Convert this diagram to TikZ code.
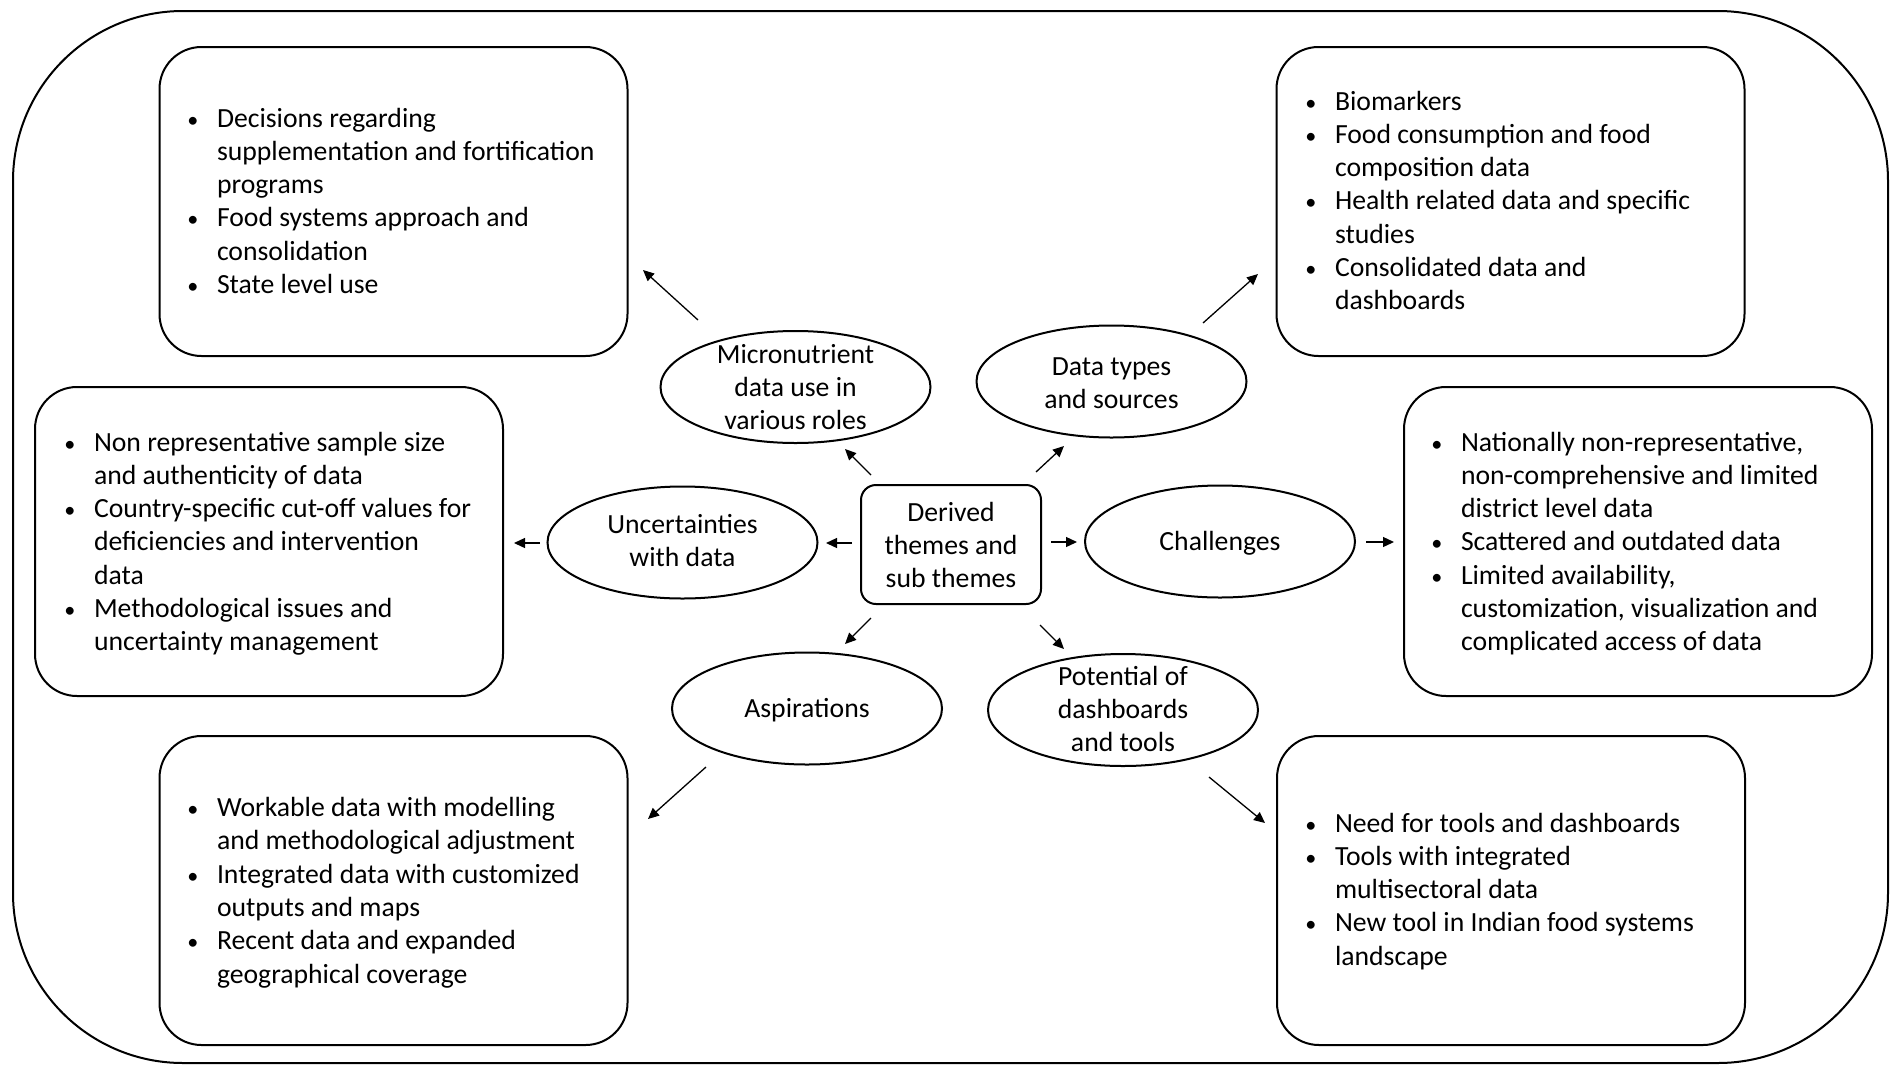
\documentclass[tikz,border=0pt]{standalone}
\usepackage{fontspec}
\setmainfont{Carlito}
\usetikzlibrary{arrows.meta,shapes.geometric}
\newcommand{\bul}{\makebox[0pt][c]{\scalebox{0.8}{\textbullet}}}
\newcommand{\bi}[1]{\hbox{\bul\hspace{12pt}#1}}
\newcommand{\bc}[1]{\hbox{\hspace{12pt}#1}}
\newcommand{\blist}[1]{\vtop{#1}}
\newcommand{\cl}[1]{\vtop{\halign{\hfil##\hfil\cr#1\crcr}}}
\begin{document}
\begin{tikzpicture}[x=0.5pt,y=-0.5pt,
  every node/.style={inner sep=0pt,outer sep=0pt,font=\fontsize{13.85pt}{16.65pt}\selectfont},
  outerbox/.style={draw,line width=1pt,rounded corners=85pt,minimum width=937.5pt,minimum height=526pt},
  box/.style={draw,line width=1pt,rounded corners=21pt,minimum width=234pt,minimum height=154.5pt},
  centerbox/.style={draw,line width=1pt,rounded corners=7.5pt,minimum width=90pt,minimum height=59.5pt},
  theme/.style={draw,ellipse,line width=1pt,minimum width=135pt,minimum height=56pt},
  arr/.style={line width=0.65pt,-{Triangle[length=5.5pt,width=5pt]}}]
\useasboundingbox (0,0) rectangle (1902,1072);
\node[outerbox] (outer) at (950.5,537) {};
% bullet boxes
\node[box] (tl) at (393.5,201.5) {};
\node[box] (tr) at (1510.5,201.5) {};
\node[box] (ml) at (269,541.5) {};
\node[box] (mr) at (1638,541.5) {};
\node[box] (bl) at (393.5,890.5) {};
\node[box] (br) at (1511,890.5) {};
% centre
\node[centerbox] (der) at (951,544.5) {};
\node[anchor=base] (dert) at (951,521) {\cl{Derived\cr themes and\cr sub themes}};
% ellipses
\node[theme] (mic) at (795.5,387) {};
\node[anchor=base] (mict) at (795.5,363) {\cl{Micronutrient\cr data use in\cr various roles}};
\node[theme] (dat) at (1111.5,381.5) {};
\node[anchor=base] (datt) at (1111.5,375) {\cl{Data types\cr and sources}};
\node[theme] (unc) at (682.5,542.5) {};
\node[anchor=base] (unct) at (682.5,533) {\cl{Uncertainties\cr with data}};
\node[theme] (cha) at (1220,541.5) {};
\node[anchor=base] (chat) at (1220,550) {Challenges};
\node[theme] (asp) at (807,708.5) {};
\node[anchor=base] (aspt) at (807,717) {Aspirations};
\node[theme] (pot) at (1123,710) {};
\node[anchor=base] (pott) at (1123,685) {\cl{Potential of\cr dashboards\cr and tools}};
% bullet texts
\node[anchor=base west] (tlt) at (193,127) {\blist{\bi{Decisions regarding}\bc{supplementation and fortification}\bc{programs}\bi{Food systems approach and}\bc{consolidation}\bi{State level use}}};
\node[anchor=base west] (trt) at (1311,110) {\blist{\bi{Biomarkers}\bi{Food consumption and food}\bc{composition data}\bi{Health related data and specific}\bc{studies}\bi{Consolidated data and}\bc{dashboards}}};
\node[anchor=base west] (mlt) at (70,451) {\blist{\bi{Non representative sample size}\bc{and authenticity of data}\bi{Country-specific cut-off values for}\bc{deficiencies and intervention}\bc{data}\bi{Methodological issues and}\bc{uncertainty management}}};
\node[anchor=base west] (mrt) at (1437,451) {\blist{\bi{Nationally non-representative,}\bc{non-comprehensive and limited}\bc{district level data}\bi{Scattered and outdated data}\bi{Limited availability,}\bc{customization, visualization and}\bc{complicated access of data}}};
\node[anchor=base west] (blt) at (193,816.5) {\blist{\bi{Workable data with modelling}\bc{and methodological adjustment}\bi{Integrated data with customized}\bc{outputs and maps}\bi{Recent data and expanded}\bc{geographical coverage}}};
\node[anchor=base west] (brt) at (1311,832) {\blist{\bi{Need for tools and dashboards}\bi{Tools with integrated}\bc{multisectoral data}\bi{New tool in Indian food systems}\bc{landscape}}};
% arrow end points
\coordinate (a1s) at (871,475);  \coordinate (a1e) at (845,449);
\coordinate (a2s) at (698,320);  \coordinate (a2e) at (643,270);
\coordinate (a3s) at (1036,472); \coordinate (a3e) at (1064,446);
\coordinate (a4s) at (1203,323); \coordinate (a4e) at (1258,274);
\coordinate (a5s) at (852,543);  \coordinate (a5e) at (826,543);
\coordinate (a6s) at (540,543);  \coordinate (a6e) at (514,543);
\coordinate (a7s) at (1051,542); \coordinate (a7e) at (1077,542);
\coordinate (a8s) at (1366,542); \coordinate (a8e) at (1394,542);
\coordinate (a9s) at (871,618);  \coordinate (a9e) at (845,644);
\coordinate (a10s) at (706,767); \coordinate (a10e) at (648,819);
\coordinate (a11s) at (1040,625); \coordinate (a11e) at (1064,649);
\coordinate (a12s) at (1209,777); \coordinate (a12e) at (1265,823);
\foreach \i in {1,...,12} {\draw[arr] (a\i s) -- (a\i e);}
\end{tikzpicture}
\end{document}
